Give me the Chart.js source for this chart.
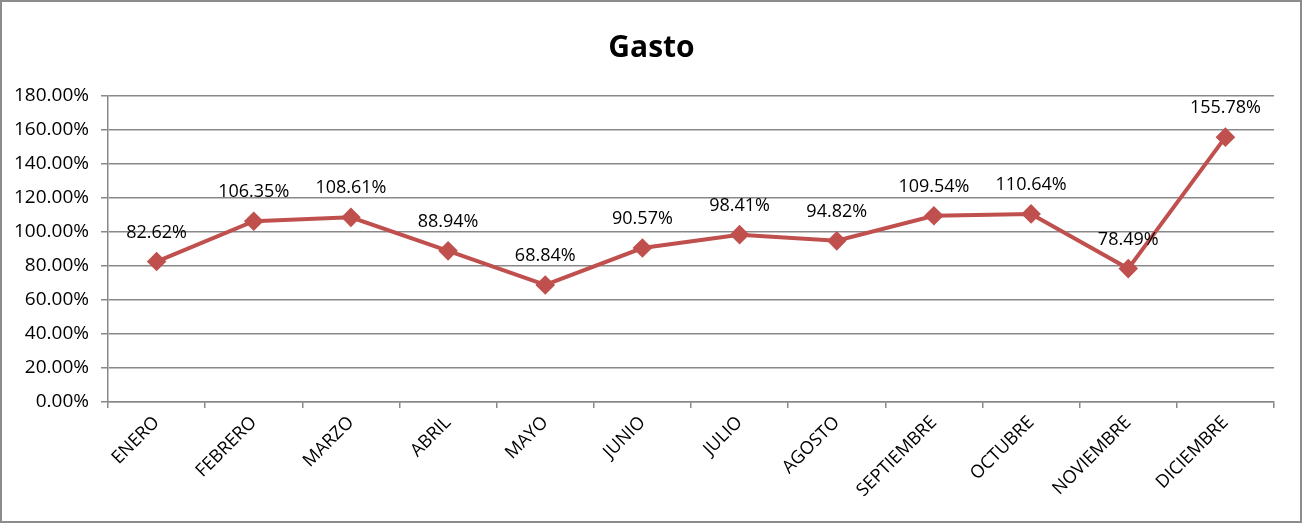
<!DOCTYPE html>
<html>
<head>
<meta charset="utf-8">
<script src="https://cdn.jsdelivr.net/npm/chart.js@4/dist/chart.umd.min.js"></script>
<style>
  body { margin: 0; background: #fff; }
  #wrap { width: 1303px; height: 524px; }
</style>
</head>
<body>
<div id="wrap"><canvas id="gasto"></canvas></div>
<script>
const meses = ["ENERO", "FEBRERO", "MARZO", "ABRIL", "MAYO", "JUNIO", "JULIO", "AGOSTO", "SEPTIEMBRE", "OCTUBRE", "NOVIEMBRE", "DICIEMBRE"];
const gasto = [82.62, 106.35, 108.61, 88.94, 68.84, 90.57, 98.41, 94.82, 109.54, 110.64, 78.49, 155.78];
const yMax = 180;
const yStep = 20;

const FONT = '"Open Sans", sans-serif';
const GRID = "#898989";

// labels above each point (like Excel data labels)
const valueLabels = {
  id: "valueLabels",
  afterDatasetsDraw(chart) {
    const ctx = chart.ctx;
    const meta = chart.getDatasetMeta(0);
    ctx.save();
    ctx.font = "18px " + FONT;
    ctx.fillStyle = "#000";
    ctx.textAlign = "center";
    ctx.textBaseline = "middle";
    meta.data.forEach((pt, i) => {
      ctx.fillText(gasto[i].toFixed(2) + "%", pt.x, pt.y - 29);
    });
    ctx.restore();
  }
};

// outer frame of the chart
const frame = {
  id: "frame",
  beforeDraw(chart) {
    const ctx = chart.ctx;
    ctx.save();
    ctx.fillStyle = "#fff";
    ctx.fillRect(0, 0, chart.width, chart.height);
    ctx.strokeStyle = "#8c8c8c";
    ctx.lineWidth = 2;
    ctx.strokeRect(1, 1, chart.width - 3, chart.height - 3);
    ctx.restore();
  }
};

const chart = new Chart(document.getElementById("gasto").getContext("2d"), {
  type: "line",
  data: {
    labels: meses,
    datasets: [
      {
        label: "Gasto",
        data: gasto,
        borderColor: "#C0504D",
        backgroundColor: "#C0504D",
        borderWidth: 4,
        pointStyle: "rectRot",
        pointRadius: 7,
        pointHoverRadius: 7,
        tension: 0,
      },
    ],
  },
  options: {
    responsive: true,
    maintainAspectRatio: false,
    animation: false,
    layout: { padding: 0 },
    plugins: {
      legend: { display: false },
      tooltip: { enabled: false },
      title: {
        display: true,
        text: "Gasto",
        color: "#000",
        font: { family: FONT, size: 30, weight: "bold" },
        padding: { top: 30, bottom: 30 },
      },
    },
    scales: {
      x: {
        offset: true,
        grid: {
          offset: true,
          drawOnChartArea: false,
          color: GRID,
          tickLength: 6,
          lineWidth: 1.5,
        },
        border: { color: GRID, width: 1.5 },
        ticks: {
          color: "#000",
          font: { family: FONT, size: 18 },
          maxRotation: 45,
          minRotation: 45,
          padding: 4,
        },
        afterFit(scale) { scale.height = 122; },
      },
      y: {
        min: 0,
        max: yMax,
        grid: { color: GRID, tickLength: 7, lineWidth: 1.5 },
        border: { color: GRID, width: 1.5 },
        ticks: {
          stepSize: yStep,
          color: "#000",
          font: { family: FONT, size: 19 },
          padding: 12,
          callback: (v) => v.toFixed(2) + "%",
        },
        afterFit(scale) { scale.width = 108; },
      },
      // empty right-side axis, only reserves the gap right of the plot
      yRight: {
        position: "right",
        display: true,
        grid: { display: false },
        border: { display: false },
        ticks: { display: false },
        afterFit(scale) { scale.width = 29; },
      },
    },
  },
  plugins: [frame, valueLabels],
});
</script>
</body>
</html>
